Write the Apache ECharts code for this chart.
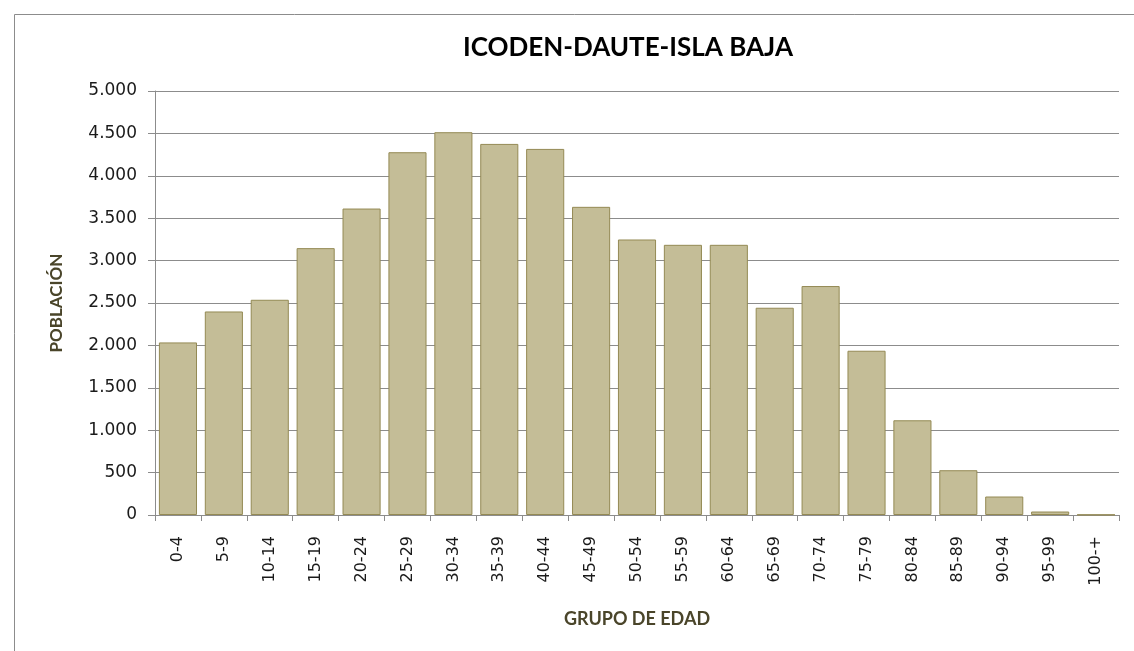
<!DOCTYPE html>
<html>
<head>
<meta charset="utf-8">
<script src="https://cdn.jsdelivr.net/npm/echarts@6/dist/echarts.min.js"></script>
<style>
html,body{margin:0;padding:0;background:#fff;}
#chart{width:1134px;height:651px;}
</style>
</head>
<body>
<div id="chart"></div>
<script>
const categories = ['0-4','5-9','10-14','15-19','20-24','25-29','30-34','35-39','40-44','45-49','50-54','55-59','60-64','65-69','70-74','75-79','80-84','85-89','90-94','95-99','100-+'];
const poblacion = [2035, 2400, 2538, 3147, 3614, 4278, 4514, 4376, 4317, 3634, 3249, 3186, 3186, 2444, 2700, 1937, 1117, 528, 218, 41, 4];
const yTicks = [0, 500, 1000, 1500, 2000, 2500, 3000, 3500, 4000, 4500, 5000];
const titleText = 'ICODEN-DAUTE-ISLA BAJA';
const yName = 'POBLACIÓN';
const xName = 'GRUPO DE EDAD';

function fmt(v){ return String(v).replace(/\B(?=(\d{3})+(?!\d))/g, '.'); }

const chart = echarts.init(document.getElementById('chart'), null, {renderer:'canvas'});
const labelFont = 'DejaVu Sans';
chart.setOption({
  backgroundColor: '#ffffff',
  animation: false,
  graphic: [
    { type:'rect', shape:{x:14.5,y:14.5,width:1200,height:700}, style:{fill:'none',stroke:'#8c8c8c',lineWidth:1}, silent:true, z:-1 },
    { type:'text', x:628, y:48, style:{ text:titleText, font:'bold 26px Lato', fill:'#000000', textAlign:'center', textVerticalAlign:'middle' } }
  ],
  grid: { left:155, right:15, top:91, bottom:136, containLabel:false },
  xAxis: {
    type:'category',
    data: categories,
    name: xName,
    nameLocation:'middle',
    nameGap: 95,
    nameTextStyle:{ fontFamily:'Lato', fontWeight:'bold', fontSize:18, color:'#4a452a', verticalAlign:'top' },
    axisLine:{ show:true, lineStyle:{ color:'#8c8c8c', width:1 } },
    axisTick:{ show:true, alignWithLabel:false, length:6, lineStyle:{ color:'#8c8c8c' } },
    axisLabel:{ rotate:90, margin:21, fontFamily:labelFont, fontSize:16, color:'#1a1a1a', interval:0 },
    splitLine:{ show:false }
  },
  yAxis: {
    type:'value',
    min: yTicks[0],
    max: yTicks[yTicks.length-1],
    interval: 500,
    name: yName,
    nameLocation:'middle',
    nameGap: 90,
    nameRotate: 90,
    nameTextStyle:{ fontFamily:'Lato', fontWeight:'bold', fontSize:17, color:'#4a452a' },
    axisLine:{ show:true, lineStyle:{ color:'#8c8c8c', width:1 } },
    axisTick:{ show:true, length:7, lineStyle:{ color:'#8c8c8c' } },
    axisLabel:{ margin:18, fontFamily:labelFont, fontSize:17, color:'#1a1a1a', formatter: fmt },
    splitLine:{ show:true, lineStyle:{ color:'#8c8c8c', width:1 } }
  },
  series: [{
    type:'bar',
    data: poblacion,
    barCategoryGap:'17%',
    itemStyle:{ color:'#c4bd97', borderColor:'#948a54', borderWidth:1 }
  }]
});
</script>
</body>
</html>
